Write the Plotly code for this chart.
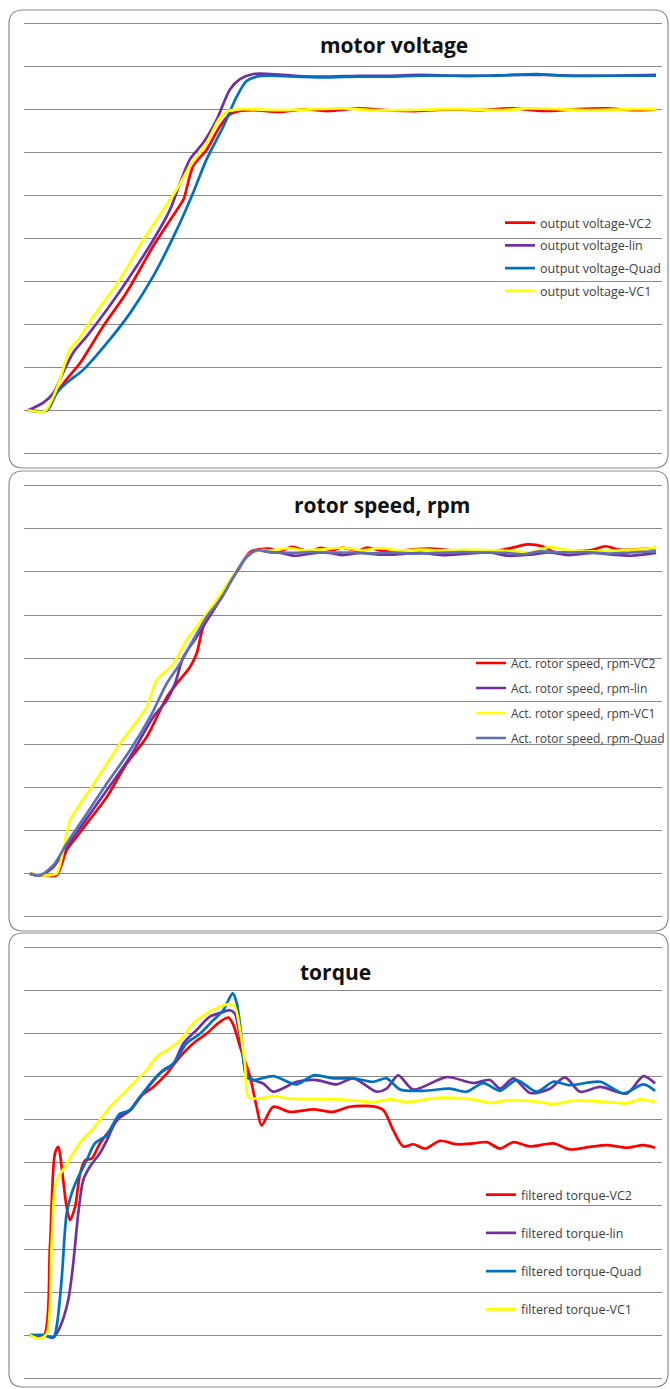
import plotly.graph_objects as go

W, H = 670, 1389

# ---------------- motor voltage ----------------
v_vc2_t = [0, 0.060, 0.091, 0.123, 0.166, 0.240, 0.314, 0.399, 0.474, 0.495, 0.526, 0.569, 0.611, 0.643, 0.675, 0.718,
           0.80, 0.88, 0.96, 1.05, 1.14, 1.24, 1.34, 1.44, 1.54, 1.64, 1.74, 1.84, 1.93, 2.0]
v_vc2 = [0, 0, 20, 36, 55, 98, 137, 191, 233, 245, 284, 303, 330, 344, 348, 349,
         347, 350, 348, 351, 349, 348, 350, 349, 351, 348, 350, 351, 349, 350]

v_lin_t = [0, 0.049, 0.081, 0.112, 0.144, 0.187, 0.251, 0.325, 0.399, 0.452, 0.484, 0.516, 0.558, 0.601, 0.643, 0.675,
           0.718, 0.771, 0.85, 0.95, 1.05, 1.15, 1.25, 1.35, 1.45, 1.55, 1.65, 1.75, 1.85, 2.0]
v_lin = [0, 9, 20, 44, 67, 86, 117, 156, 198, 233, 264, 292, 311, 338, 373, 385,
         391, 391, 389, 388, 389, 389, 390, 389, 389, 390, 390, 389, 389, 390]

v_quad_t = [0, 0.060, 0.091, 0.123, 0.176, 0.251, 0.325, 0.399, 0.474, 0.526, 0.569, 0.622, 0.665, 0.696, 0.728, 0.771,
            0.85, 0.95, 1.05, 1.15, 1.25, 1.35, 1.45, 1.55, 1.62, 1.70, 1.80, 1.90, 2.0]
v_quad = [0, 0, 20, 32, 47, 78, 113, 156, 210, 253, 292, 330, 365, 383, 388, 389,
          388, 387, 388, 388, 389, 389, 389, 390, 391, 389, 389, 389, 389]

v_vc1_t = [0, 0.054, 0.081, 0.102, 0.134, 0.160, 0.208, 0.293, 0.367, 0.431, 0.474, 0.516, 0.569, 0.611, 0.638, 0.675,
           0.80, 0.90, 1.00, 1.10, 1.20, 1.30, 1.40, 1.50, 1.60, 1.70, 1.80, 1.90, 2.0]
v_vc1 = [0, -1, 16, 36, 71, 82, 109, 152, 198, 233, 257, 284, 311, 340, 348, 350,
         349, 350, 351, 349, 349, 350, 350, 349, 351, 350, 349, 350, 350]

# ---------------- rotor speed ----------------
s_vc2_t = [0.006, 0.049, 0.091, 0.123, 0.155, 0.187, 0.251, 0.314, 0.378, 0.442, 0.474, 0.516, 0.537, 0.558, 0.590,
           0.633, 0.675, 0.707, 0.739, 0.77, 0.80, 0.84, 0.88, 0.91, 0.93, 0.97, 1.00, 1.05, 1.08, 1.12, 1.17,
           1.22, 1.28, 1.35, 1.42, 1.50, 1.55, 1.59, 1.64, 1.68, 1.73, 1.79, 1.84, 1.88, 1.94, 2.0]
s_vc2 = [0, -8, -8, 108, 170, 232, 355, 510, 634, 819, 882, 959, 1021, 1144, 1222,
         1330, 1423, 1492, 1505, 1508, 1495, 1516, 1500, 1500, 1512, 1500, 1513, 1498, 1513, 1500, 1495,
         1503, 1508, 1500, 1498, 1500, 1515, 1528, 1518, 1490, 1495, 1500, 1519, 1503, 1505, 1510]

s_lin_t = [0.006, 0.038, 0.081, 0.123, 0.176, 0.251, 0.325, 0.399, 0.442, 0.468, 0.495, 0.537, 0.569, 0.611, 0.654,
           0.696, 0.728, 0.771, 0.80, 0.85, 0.90, 0.95, 1.00, 1.06, 1.12, 1.18, 1.25, 1.32, 1.40, 1.47, 1.53,
           1.60, 1.66, 1.72, 1.80, 1.86, 1.92, 2.0]
s_lin = [0, -8, 31, 124, 232, 387, 541, 727, 804, 882, 1005, 1098, 1175, 1268, 1376,
         1469, 1500, 1492, 1490, 1475, 1485, 1490, 1478, 1488, 1480, 1482, 1488, 1478, 1485, 1490, 1475,
         1480, 1490, 1478, 1488, 1480, 1475, 1488]

s_vc1_t = [0.006, 0.060, 0.091, 0.112, 0.134, 0.160, 0.203, 0.251, 0.293, 0.341, 0.378, 0.410, 0.463, 0.505, 0.569,
           0.622, 0.665, 0.707, 0.739, 0.78, 0.83, 0.88, 0.94, 1.00, 1.06, 1.12, 1.18, 1.25, 1.32, 1.40, 1.48,
           1.55, 1.60, 1.66, 1.72, 1.80, 1.88, 1.95, 2.0]
s_vc1 = [0, -8, 0, 108, 248, 309, 402, 510, 603, 696, 773, 897, 974, 1083, 1206,
         1315, 1407, 1485, 1500, 1500, 1510, 1500, 1505, 1512, 1500, 1510, 1500, 1503, 1500, 1502, 1500,
         1495, 1490, 1515, 1500, 1495, 1500, 1505, 1513]

s_quad_t = [0.006, 0.038, 0.081, 0.123, 0.187, 0.251, 0.325, 0.389, 0.442, 0.484, 0.526, 0.569, 0.611, 0.654, 0.696,
            0.728, 0.771, 0.84, 0.90, 0.96, 1.02, 1.10, 1.16, 1.22, 1.30, 1.38, 1.45, 1.52, 1.58, 1.63, 1.70,
            1.78, 1.85, 1.92, 2.0]
s_quad = [0, -8, 39, 139, 278, 418, 572, 727, 882, 974, 1083, 1191, 1268, 1376, 1469,
          1500, 1492, 1488, 1492, 1488, 1490, 1486, 1490, 1485, 1488, 1492, 1490, 1488, 1482, 1495, 1490,
          1492, 1485, 1490, 1495]

# ---------------- torque ----------------
q_vc2_t = [0.006, 0.049, 0.070, 0.086, 0.097, 0.107, 0.123, 0.134, 0.150, 0.166, 0.182, 0.203, 0.229, 0.261, 0.293,
           0.325, 0.357, 0.399, 0.442, 0.484, 0.526, 0.569, 0.611, 0.638, 0.654, 0.675, 0.707, 0.728, 0.744, 0.781,
           0.834, 0.909, 0.971, 1.025, 1.100, 1.132, 1.163, 1.195, 1.227, 1.264, 1.312, 1.365, 1.418, 1.461,
           1.503, 1.546, 1.599, 1.673, 1.726, 1.790, 1.843, 1.907, 1.960, 1.997]
q_vc2 = [0, -0.04, 2.05, 4.22, 4.37, 3.91, 2.98, 2.67, 2.98, 3.75, 4.06, 4.10, 4.45, 4.76, 5.07,
         5.22, 5.53, 5.76, 6.07, 6.46, 6.77, 7.00, 7.27, 7.37, 7.20, 6.70, 6.00, 5.30, 4.87, 5.30,
         5.18, 5.24, 5.18, 5.30, 5.31, 5.22, 4.76, 4.38, 4.43, 4.33, 4.51, 4.43, 4.45, 4.48,
         4.33, 4.48, 4.38, 4.45, 4.31, 4.37, 4.41, 4.35, 4.41, 4.35]

q_lin_t = [0.006, 0.049, 0.081, 0.102, 0.128, 0.144, 0.160, 0.176, 0.197, 0.229, 0.251, 0.283, 0.325, 0.367, 0.420,
           0.463, 0.495, 0.537, 0.579, 0.622, 0.643, 0.659, 0.675, 0.696, 0.718, 0.749, 0.781, 0.856, 0.919,
           0.983, 1.036, 1.110, 1.142, 1.179, 1.227, 1.333, 1.418, 1.471, 1.503, 1.546, 1.599, 1.662, 1.710,
           1.758, 1.822, 1.907, 1.960, 1.997]
q_lin = [0, 0, -0.05, 0.19, 0.81, 1.66, 2.82, 3.60, 3.91, 4.22, 4.52, 4.99, 5.22, 5.61, 6.07,
         6.30, 6.77, 7.08, 7.39, 7.50, 7.54, 7.46, 6.92, 6.07, 5.92, 5.84, 5.65, 5.88, 5.92,
         5.82, 5.96, 5.65, 5.72, 6.03, 5.70, 5.99, 5.85, 5.92, 5.72, 5.96, 5.62, 5.72, 5.98,
         5.65, 5.76, 5.61, 6.01, 5.84]

q_quad_t = [0.006, 0.049, 0.081, 0.091, 0.107, 0.123, 0.139, 0.160, 0.187, 0.213, 0.251, 0.272, 0.293, 0.325, 0.357,
            0.399, 0.431, 0.463, 0.505, 0.548, 0.590, 0.622, 0.638, 0.652, 0.665, 0.681, 0.696, 0.718, 0.781,
            0.856, 0.909, 0.972, 1.036, 1.100, 1.142, 1.185, 1.259, 1.344, 1.397, 1.450, 1.503, 1.556, 1.620,
            1.673, 1.726, 1.822, 1.896, 1.960, 1.997]
q_quad = [0, 0, -0.05, 0.19, 1.28, 2.82, 3.29, 3.67, 4.06, 4.45, 4.64, 4.91, 5.14, 5.22, 5.53,
          5.92, 6.15, 6.30, 6.77, 7.00, 7.31, 7.54, 7.77, 7.93, 7.70, 6.84, 5.99, 5.92, 6.01,
          5.82, 6.03, 5.96, 5.96, 5.88, 5.96, 5.70, 5.67, 5.72, 5.65, 5.85, 5.67, 5.92, 5.65,
          5.88, 5.80, 5.88, 5.61, 5.82, 5.67]

q_vc1_t = [0.006, 0.038, 0.060, 0.075, 0.086, 0.097, 0.118, 0.144, 0.171, 0.203, 0.229, 0.261, 0.293, 0.335, 0.378,
           0.410, 0.442, 0.484, 0.526, 0.569, 0.611, 0.643, 0.659, 0.675, 0.691, 0.702, 0.739, 0.781, 0.834,
           0.993, 1.100, 1.153, 1.206, 1.312, 1.418, 1.471, 1.524, 1.631, 1.673, 1.736, 1.843, 1.907, 1.949, 1.997]
q_vc1 = [0, -0.08, 0.04, 2.05, 3.44, 3.67, 3.91, 4.22, 4.52, 4.76, 4.99, 5.30, 5.53, 5.84, 6.15,
         6.46, 6.61, 6.84, 7.23, 7.46, 7.62, 7.68, 7.62, 7.08, 6.30, 5.53, 5.49, 5.55, 5.49,
         5.47, 5.41, 5.47, 5.41, 5.51, 5.47, 5.39, 5.45, 5.41, 5.36, 5.44, 5.41, 5.38, 5.47, 5.41]

titles = ["motor voltage", "rotor speed, rpm", "torque"]
names_v = ["output voltage-VC2", "output voltage-lin", "output voltage-Quad", "output voltage-VC1"]
names_s = ["Act. rotor speed, rpm-VC2", "Act. rotor speed, rpm-lin", "Act. rotor speed, rpm-VC1",
           "Act. rotor speed, rpm-Quad"]
names_q = ["filtered torque-VC2", "filtered torque-lin", "filtered torque-Quad", "filtered torque-VC1"]

RED, PURPLE, BLUE, YELLOW, SLATE = "#FF0000", "#7030A0", "#0070C0", "#FFFF00", "#5F70B2"

panels = [
    dict(series=[(v_vc2_t, v_vc2, RED), (v_lin_t, v_lin, PURPLE), (v_quad_t, v_quad, BLUE), (v_vc1_t, v_vc1, YELLOW)],
         names=names_v, top=23.3, bottom=453.3, rng=[-50, 450], dt=50),
    dict(series=[(s_vc2_t, s_vc2, RED), (s_lin_t, s_lin, PURPLE), (s_vc1_t, s_vc1, YELLOW), (s_quad_t, s_quad, SLATE)],
         names=names_s, top=485.7, bottom=916.7, rng=[-200, 1800], dt=200),
    dict(series=[(q_vc2_t, q_vc2, RED), (q_lin_t, q_lin, PURPLE), (q_quad_t, q_quad, BLUE), (q_vc1_t, q_vc1, YELLOW)],
         names=names_q, top=947.3, bottom=1378.3, rng=[-1, 9], dt=1),
]

# legend: (left px, top px, group gap, font size)
legend_pos = [(500, 208, 3.5, 12.5), (471, 648.5, 6, 12), (481, 1180, 19, 12.5)]
title_pos = [(393.5, 45), (382, 505), (335, 972)]
boxes = [(9, 10, 668, 468), (9, 471, 668, 931), (9, 933, 668, 1387)]

fig = go.Figure()
layout = dict(width=W, height=H, margin=dict(l=0, r=0, t=0, b=0, autoexpand=False),
              paper_bgcolor="white", plot_bgcolor="rgba(0,0,0,0)", showlegend=True)

PAD = 0.06  # fraction of a grid step added above/below so edge gridlines are drawn
for i, p in enumerate(panels):
    k = i + 1
    xa = "x" if k == 1 else f"x{k}"
    ya = "y" if k == 1 else f"y{k}"
    lg = "legend" if k == 1 else f"legend{k}"
    for j, ((tx, ty, col), nm) in enumerate(zip(p["series"], p["names"])):
        fig.add_trace(go.Scatter(x=tx, y=ty, mode="lines", name=nm, xaxis=xa, yaxis=ya,
                                 legend=lg, legendgroup=f"g{k}{j}",
                                 line=dict(color=col, width=2.7, shape="spline", smoothing=0.8)))
    step_px = (p["bottom"] - p["top"]) / 10.0
    top_px = p["top"] - PAD * step_px
    bot_px = p["bottom"] + PAD * step_px
    xkey = "xaxis" if k == 1 else f"xaxis{k}"
    ykey = "yaxis" if k == 1 else f"yaxis{k}"
    layout[xkey] = dict(domain=[24 / W, 662 / W], range=[-0.0127, 2.019], visible=False, anchor=ya)
    layout[ykey] = dict(domain=[1 - bot_px / H, 1 - top_px / H],
                        range=[p["rng"][0] - p["dt"] * PAD, p["rng"][1] + p["dt"] * PAD],
                        tick0=0, dtick=p["dt"], showgrid=True, gridcolor="#8A8A8A", gridwidth=1,
                        zeroline=False, showline=False, showticklabels=False, ticks="", anchor=xa)
    lx, ly, gap, fs = legend_pos[i]
    layout[lg] = dict(x=lx / W, y=1 - ly / H, xanchor="left", yanchor="top", bgcolor="rgba(0,0,0,0)",
                      borderwidth=0, tracegroupgap=gap, traceorder="grouped",
                      font=dict(family="Open Sans, sans-serif", size=fs, color="#404040"))

fig.update_layout(**layout)

r = 14
shapes = []
for (x0, y0, x1, y1) in boxes:
    rx, ry = r / W, r / H
    X0, X1 = x0 / W, x1 / W
    Y0, Y1 = 1 - y0 / H, 1 - y1 / H  # Y0 top, Y1 bottom
    path = (f"M {X0 + rx},{Y0} L {X1 - rx},{Y0} Q {X1},{Y0} {X1},{Y0 - ry} "
            f"L {X1},{Y1 + ry} Q {X1},{Y1} {X1 - rx},{Y1} "
            f"L {X0 + rx},{Y1} Q {X0},{Y1} {X0},{Y1 + ry} "
            f"L {X0},{Y0 - ry} Q {X0},{Y0} {X0 + rx},{Y0} Z")
    shapes.append(dict(type="path", xref="paper", yref="paper", path=path,
                       line=dict(color="#8C8C8C", width=1.2), layer="below"))
fig.update_layout(shapes=shapes)

for t, (tx, ty) in zip(titles, title_pos):
    fig.add_annotation(text=f"<b>{t}</b>", xref="paper", yref="paper", x=tx / W, y=1 - ty / H,
                       xanchor="center", yanchor="middle", showarrow=False,
                       font=dict(family="Open Sans, sans-serif", size=21, color="#111111"))

fig.write_html("out.html")
